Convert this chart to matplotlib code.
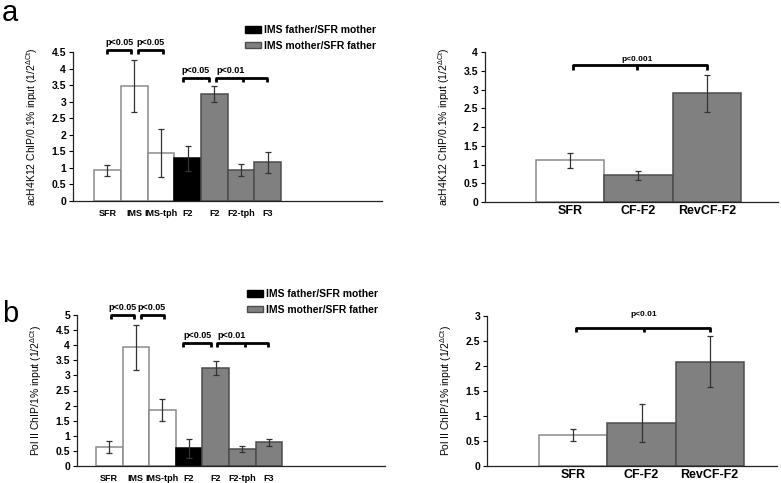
import matplotlib
matplotlib.use("Agg")
import matplotlib.pyplot as plt
from matplotlib.patches import Patch

plt.rcParams['font.family'] = ['Liberation Sans', 'DejaVu Sans']
plt.rcParams['mathtext.fontset'] = 'custom'
plt.rcParams['mathtext.rm'] = 'Liberation Sans'
plt.rcParams['mathtext.it'] = 'Liberation Sans'

# ---- data ----
left_categories = ["SFR", "IMS", "IMS-tph", "F2", "F2", "F2-tph", "F3"]
left_groups = ["parent", "parent", "parent", "father", "mother", "mother", "mother"]
a_left_values = [0.93, 3.48, 1.44, 1.29, 3.23, 0.95, 1.17]
a_left_errors = [0.16, 0.78, 0.72, 0.37, 0.23, 0.18, 0.32]
b_left_values = [0.63, 3.93, 1.85, 0.58, 3.25, 0.56, 0.78]
b_left_errors = [0.19, 0.74, 0.36, 0.30, 0.23, 0.10, 0.13]

right_categories = ["SFR", "CF-F2", "RevCF-F2"]
right_groups = ["parent", "mother", "mother"]
a_right_values = [1.11, 0.72, 2.90]
a_right_errors = [0.20, 0.12, 0.50]
b_right_values = [0.62, 0.87, 2.09]
b_right_errors = [0.12, 0.38, 0.51]

legend_labels = ["IMS father/SFR mother", "IMS mother/SFR father"]

a_ylabel = "acH4K12 ChIP/0.1% input (1/2$^{\\Delta Ct}$)"
b_ylabel = "Pol II ChIP/1% input (1/2$^{\\Delta Ct}$)"

fill = {"parent": "white", "father": "black", "mother": "#808080"}
edge = {"parent": "#8c8c8c", "father": "black", "mother": "#4d4d4d"}

W, H = 781, 483
fig = plt.figure(figsize=(W / 100, H / 100), dpi=100)


def add_axes(l, r, top, bot):
    return fig.add_axes([l / W, 1 - bot / H, (r - l) / W, (bot - top) / H])


def style(ax, ymax, ystep, xlim, labels, xfs, xpad):
    ax.set_ylim(0, ymax)
    ax.set_xlim(*xlim)
    n = int(round(ymax / ystep))
    ticks = [i * ystep for i in range(n + 1)]
    ax.set_yticks(ticks)
    ax.set_yticklabels([("%g" % t) for t in ticks], fontsize=7.5, fontweight='bold')
    ax.set_xticks(range(len(labels)))
    ax.set_xticklabels(labels, fontsize=xfs, fontweight='bold')
    ax.tick_params(axis='x', length=0, pad=xpad)
    ax.tick_params(axis='y', length=3, width=0.8, pad=2, direction='out')
    for s in ('top', 'right'):
        ax.spines[s].set_visible(False)
    for s in ('left', 'bottom'):
        ax.spines[s].set_color('#222222')
        ax.spines[s].set_linewidth(0.9)


def bars(ax, vals, errs, groups):
    x = list(range(len(vals)))
    ax.bar(x, vals, width=1.0, color=[fill[g] for g in groups],
           edgecolor=[edge[g] for g in groups], linewidth=1.1, zorder=2)
    ax.errorbar(x, vals, yerr=errs, fmt='none', ecolor='#333333',
                elinewidth=0.9, capsize=2.5, capthick=0.9, zorder=3)


def bracket(ax, x0, x1, y, mids=(), dy=0.1):
    kw = dict(color='black', lw=2.0, clip_on=False, solid_capstyle='butt', zorder=4)
    ax.plot([x0, x0, x1, x1], [y - dy, y, y, y - dy], **kw)
    for m in mids:
        ax.plot([m, m], [y, y - dy], **kw)


def ptext(ax, x, y, s, fs=6.5):
    ax.text(x, y, s, ha='center', va='center', fontsize=fs, fontweight='bold', clip_on=False)


# ---- panel a left ----
ax1 = add_axes(73, 382, 52, 201)
bars(ax1, a_left_values, a_left_errors, left_groups)
style(ax1, 4.5, 0.5, (-1.29, 10.28), left_categories, 6.5, 6)
ax1.set_ylabel(a_ylabel, fontsize=7.5, labelpad=8)
bracket(ax1, 0.0, 0.9, 4.56, dy=0.12)
bracket(ax1, 1.15, 2.08, 4.56, dy=0.12)
ptext(ax1, 0.45, 4.78, "p<0.05")
ptext(ax1, 1.6, 4.78, "p<0.05")
bracket(ax1, 2.83, 3.8, 3.71, dy=0.12)
bracket(ax1, 4.06, 5.97, 3.71, mids=[5.07], dy=0.12)
ptext(ax1, 3.3, 3.93, "p<0.05")
ptext(ax1, 4.6, 3.93, "p<0.01")
ax1.legend(handles=[Patch(facecolor='black', edgecolor='black'),
                    Patch(facecolor='#808080', edgecolor='#4d4d4d')],
           labels=legend_labels, loc='upper left', bbox_to_anchor=(245 / W, 1 - 25 / H),
           bbox_transform=fig.transFigure, frameon=False,
           prop={'weight': 'bold', 'size': 7.5}, handlelength=1.5, handleheight=0.6,
           handletextpad=0.3, labelspacing=0.55, borderaxespad=0, borderpad=0)

# ---- panel a right ----
ax2 = add_axes(485, 778, 52, 202)
bars(ax2, a_right_values, a_right_errors, right_groups)
style(ax2, 4, 0.5, (-1.24, 3.04), right_categories, 9, 2.5)
ax2.set_ylabel(a_ylabel, fontsize=7.5, labelpad=8)
bracket(ax2, 0.04, 2.0, 3.65, mids=[0.98], dy=0.12)
ptext(ax2, 0.98, 3.8, "p<0.001", fs=6)

# ---- panel b left ----
ax3 = add_axes(77, 385, 315, 466)
bars(ax3, b_left_values, b_left_errors, left_groups)
style(ax3, 5, 0.5, (-1.21, 10.36), left_categories, 6.5, 6)
ax3.set_ylabel(b_ylabel, fontsize=7.5, labelpad=8)
bracket(ax3, 0.06, 0.92, 5.0, dy=0.13)
bracket(ax3, 1.18, 2.04, 5.0, dy=0.13)
ptext(ax3, 0.5, 5.25, "p<0.05")
ptext(ax3, 1.6, 5.25, "p<0.05")
bracket(ax3, 2.79, 3.84, 4.07, dy=0.13)
bracket(ax3, 4.06, 5.97, 4.07, mids=[5.11], dy=0.13)
ptext(ax3, 3.3, 4.33, "p<0.05")
ptext(ax3, 4.6, 4.33, "p<0.01")
ax3.legend(handles=[Patch(facecolor='black', edgecolor='black'),
                    Patch(facecolor='#808080', edgecolor='#4d4d4d')],
           labels=legend_labels, loc='upper left', bbox_to_anchor=(247 / W, 1 - 289 / H),
           bbox_transform=fig.transFigure, frameon=False,
           prop={'weight': 'bold', 'size': 7.5}, handlelength=1.5, handleheight=0.6,
           handletextpad=0.3, labelspacing=0.55, borderaxespad=0, borderpad=0)

# ---- panel b right ----
ax4 = add_axes(487, 777, 316, 466)
bars(ax4, b_right_values, b_right_errors, right_groups)
style(ax4, 3, 0.5, (-1.27, 2.99), right_categories, 9, 2)
ax4.set_ylabel(b_ylabel, fontsize=7.5, labelpad=8)
bracket(ax4, 0.04, 2.01, 2.76, mids=[1.03], dy=0.08)
ptext(ax4, 1.03, 3.04, "p<0.01", fs=6)

# panel letters
fig.text(2 / W, 1 - 21 / H, "a", fontsize=21, va='baseline', ha='left')
fig.text(2 / W, 1 - 322 / H, "b", fontsize=21, va='baseline', ha='left')

fig.savefig("out.png", dpi=100)
